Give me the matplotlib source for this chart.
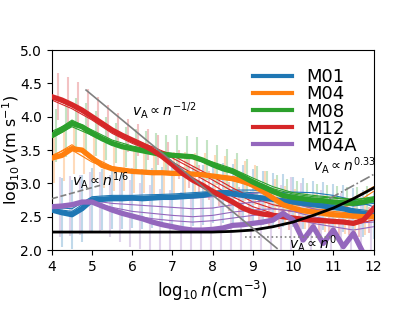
import numpy as np
import matplotlib
matplotlib.use("Agg")
import matplotlib.pyplot as plt

# log10 n grid for the thick (mean) curves and error bars
x_fine = [4.0, 4.25, 4.5, 4.75, 5.0, 5.25, 5.5, 5.75, 6.0, 6.25, 6.5, 6.75,
          7.0, 7.25, 7.5, 7.75, 8.0, 8.25, 8.5, 8.75, 9.0, 9.25, 9.5, 9.75,
          10.0, 10.25, 10.5, 10.75, 11.0, 11.25, 11.5, 11.75, 12.0]
# coarser grid for the thin (snapshot) curves and the black curve
x_coarse = [4.0, 4.5, 5.0, 5.5, 6.0, 6.5, 7.0, 7.5, 8.0, 8.5, 9.0, 9.5,
            10.0, 10.5, 11.0, 11.5, 12.0]

labels = ["M01", "M04", "M08", "M12", "M04A"]
colors = ["#1f77b4", "#ff7f0e", "#2ca02c", "#d62728", "#9467bd"]

m01 = [2.60, 2.56, 2.53, 2.62, 2.75, 2.76, 2.77, 2.77, 2.78, 2.77, 2.78, 2.79,
       2.79, 2.80, 2.81, 2.82, 2.85, 2.86, 2.84, 2.82, 2.80, 2.78, 2.76, 2.74,
       2.72, 2.70, 2.68, 2.66, 2.64, 2.62, 2.58, 2.55, 2.52]
m04 = [3.38, 3.42, 3.52, 3.50, 3.38, 3.27, 3.22, 3.20, 3.18, 3.17, 3.16, 3.16,
       3.15, 3.15, 3.14, 3.13, 3.11, 3.09, 3.07, 3.04, 2.97, 2.88, 2.78, 2.68,
       2.63, 2.59, 2.57, 2.55, 2.53, 2.52, 2.51, 2.50, 2.50]
m08 = [3.72, 3.80, 3.90, 3.85, 3.75, 3.67, 3.60, 3.55, 3.52, 3.49, 3.46, 3.43,
       3.42, 3.41, 3.40, 3.35, 3.28, 3.22, 3.18, 3.10, 3.02, 2.95, 2.88, 2.82,
       2.79, 2.77, 2.75, 2.74, 2.72, 2.71, 2.70, 2.72, 2.76]
m12 = [4.30, 4.25, 4.18, 4.10, 4.00, 3.90, 3.80, 3.72, 3.65, 3.58, 3.50, 3.40,
       3.28, 3.15, 3.05, 2.97, 2.88, 2.80, 2.72, 2.63, 2.57, 2.54, 2.52, 2.50,
       2.48, 2.46, 2.45, 2.44, 2.43, 2.42, 2.40, 2.45, 2.62]
m04a = [2.65, 2.66, 2.68, 2.72, 2.72, 2.66, 2.60, 2.55, 2.51, 2.47, 2.42, 2.38,
        2.35, 2.32, 2.30, 2.30, 2.31, 2.33, 2.37, 2.38, 2.40, 2.42, 2.45, 2.55,
        2.45, 2.15, 2.35, 2.10, 2.30, 2.05, 2.25, 1.95, 1.90]

m01_err = [0.50, 0.52, 0.52, 0.50, 0.48, 0.46, 0.45, 0.45, 0.45, 0.45, 0.45, 0.45,
           0.45, 0.45, 0.45, 0.45, 0.45, 0.45, 0.45, 0.45, 0.42, 0.40, 0.40, 0.40,
           0.38, 0.38, 0.36, 0.36, 0.35, 0.35, 0.35, 0.35, 0.35]
m04_err = [0.38, 0.38, 0.38, 0.36, 0.35, 0.34, 0.33, 0.32, 0.32, 0.32, 0.32, 0.32,
           0.32, 0.32, 0.32, 0.32, 0.32, 0.32, 0.30, 0.30, 0.30, 0.30, 0.28, 0.28,
           0.28, 0.28, 0.28, 0.28, 0.28, 0.28, 0.28, 0.28, 0.28]
m08_err = [0.40, 0.40, 0.38, 0.36, 0.34, 0.32, 0.30, 0.30, 0.30, 0.30, 0.30, 0.30,
           0.30, 0.30, 0.30, 0.30, 0.30, 0.30, 0.28, 0.26, 0.24, 0.24, 0.24, 0.24,
           0.24, 0.24, 0.24, 0.24, 0.24, 0.24, 0.24, 0.24, 0.24]
m12_err = [0.35, 0.35, 0.34, 0.32, 0.30, 0.28, 0.26, 0.25, 0.24, 0.23, 0.22, 0.22,
           0.22, 0.22, 0.22, 0.22, 0.22, 0.22, 0.22, 0.22, 0.20, 0.20, 0.20, 0.20,
           0.20, 0.20, 0.20, 0.20, 0.20, 0.20, 0.20, 0.20, 0.20]
m04a_err = [0.45, 0.45, 0.45, 0.45, 0.45, 0.46, 0.48, 0.50, 0.50, 0.50, 0.50, 0.52,
            0.52, 0.52, 0.52, 0.52, 0.52, 0.52, 0.52, 0.52, 0.52, 0.52, 0.52, 0.55,
            0.55, 0.55, 0.55, 0.60, 0.55, 0.55, 0.55, 0.55, 0.55]

# thin snapshot curves
m01_thin = [
    [2.62, 2.58, 2.78, 2.80, 2.80, 2.81, 2.82, 2.84, 2.87, 2.88, 2.86, 2.86, 2.87, 2.86, 2.82, 2.75, 2.65],
    [2.58, 2.55, 2.74, 2.76, 2.77, 2.78, 2.80, 2.82, 2.86, 2.86, 2.82, 2.78, 2.75, 2.72, 2.68, 2.62, 2.58],
    [2.64, 2.62, 2.80, 2.82, 2.82, 2.83, 2.84, 2.86, 2.88, 2.90, 2.90, 2.88, 2.82, 2.76, 2.70, 2.66, 2.70],
]
m04_thin = [
    [3.40, 3.58, 3.35, 3.22, 3.19, 3.17, 3.16, 3.15, 3.12, 3.08, 2.98, 2.80, 2.68, 2.65, 2.70, 2.78, 2.95],
    [3.36, 3.50, 3.32, 3.20, 3.16, 3.14, 3.13, 3.12, 3.09, 3.04, 2.95, 2.75, 2.64, 2.60, 2.62, 2.68, 2.88],
    [3.42, 3.55, 3.40, 3.25, 3.20, 3.18, 3.17, 3.16, 3.13, 3.10, 3.00, 2.85, 2.72, 2.62, 2.58, 2.55, 2.60],
]
m08_thin = [
    [3.78, 3.92, 3.78, 3.62, 3.53, 3.47, 3.43, 3.41, 3.30, 3.20, 3.05, 2.92, 2.84, 2.80, 2.78, 2.75, 2.80],
    [3.68, 3.85, 3.72, 3.58, 3.50, 3.44, 3.40, 3.38, 3.26, 3.15, 2.98, 2.85, 2.76, 2.72, 2.70, 2.68, 2.72],
    [3.75, 3.95, 3.80, 3.65, 3.56, 3.50, 3.45, 3.42, 3.32, 3.22, 3.08, 2.95, 2.86, 2.82, 2.79, 2.76, 2.78],
]
m12_thin = [
    [4.28, 4.15, 3.98, 3.78, 3.62, 3.52, 3.38, 3.22, 3.05, 2.88, 2.72, 2.62, 2.58, 2.55, 2.52, 2.48, 2.55],
    [4.25, 4.12, 3.95, 3.75, 3.60, 3.48, 3.32, 3.15, 2.98, 2.80, 2.65, 2.55, 2.50, 2.47, 2.44, 2.38, 2.45],
    [4.32, 4.20, 4.02, 3.82, 3.66, 3.55, 3.42, 3.26, 3.10, 2.93, 2.78, 2.68, 2.62, 2.58, 2.55, 2.50, 2.60],
]
m04a_thin = [
    [2.66, 2.70, 2.76, 2.75, 2.75, 2.76, 2.77, 2.78, 2.80, 2.82, 2.85, 2.88, 2.80, 2.70, 2.65, 2.60, 2.55],
    [2.64, 2.68, 2.74, 2.70, 2.68, 2.66, 2.64, 2.62, 2.63, 2.68, 2.72, 2.75, 2.70, 2.62, 2.55, 2.50, 2.50],
    [2.62, 2.66, 2.72, 2.64, 2.58, 2.55, 2.52, 2.50, 2.52, 2.57, 2.60, 2.62, 2.58, 2.50, 2.45, 2.40, 2.42],
    [2.63, 2.67, 2.73, 2.60, 2.52, 2.47, 2.44, 2.42, 2.44, 2.48, 2.52, 2.55, 2.48, 2.40, 2.35, 2.30, 2.35],
]

# black curve
black_curve = [2.27, 2.27, 2.27, 2.27, 2.27, 2.27, 2.27, 2.27, 2.27, 2.28, 2.30, 2.35,
               2.42, 2.52, 2.63, 2.77, 2.93]

# power-law guide lines: (x start, x end, y at start, slope)
guide_half = (4.85, 9.6, 4.40, -0.5)
guide_sixth = (4.0, 5.2, 2.77, 1.0 / 6.0)
guide_033 = (10.9, 12.0, 2.77, 0.33)
guide_zero = (8.8, 11.0, 2.20, 0.0)

means = [m01, m04, m08, m12, m04a]
errs = [m01_err, m04_err, m08_err, m12_err, m04a_err]
thins = [m01_thin, m04_thin, m08_thin, m12_thin, m04a_thin]


def guide(ax, g, **kw):
    x0, x1, y0, s = g
    xs = np.array([x0, x1])
    ax.plot(xs, y0 + s * (xs - x0), **kw)


def main():
    fig = plt.figure(figsize=(4.15, 3.11), dpi=100)
    ax = fig.add_subplot(1, 1, 1)
    fig.subplots_adjust(left=0.125, right=0.9, bottom=0.196, top=0.839)

    xf = np.array(x_fine)
    for i, (y, e, c) in enumerate(zip(means, errs, colors)):
        y = np.array(y)
        e = np.array(e)
        ax.vlines(xf + 0.05 * i, y - e, y + e, color=c, alpha=0.28, linewidth=1.5, zorder=1)

    for th, c in zip(thins, colors):
        for t in th:
            ax.plot(x_coarse, t, color=c, linewidth=0.8, zorder=2)

    for y, c, lab in zip(means, colors, labels):
        ax.plot(x_fine, y, color=c, linewidth=3.8, label=lab, zorder=3)

    ax.plot(x_coarse, black_curve, color="black", linewidth=2, zorder=4)

    guide(ax, guide_half, color="gray", linewidth=1.2, zorder=5)
    guide(ax, guide_sixth, color="gray", linewidth=1.2, linestyle="--", zorder=5)
    guide(ax, guide_033, color="gray", linewidth=1.2, linestyle="-.", zorder=5)
    guide(ax, guide_zero, color="gray", linewidth=1.2, linestyle=":", zorder=5)

    ax.text(6.0, 4.1, r"$v_{\rm A}\propto n^{-1/2}$", fontsize=10, va="center")
    ax.text(4.5, 3.05, r"$v_{\rm A}\propto n^{1/6}$", fontsize=10, va="center")
    ax.text(10.5, 3.27, r"$v_{\rm A}\propto n^{0.33}$", fontsize=10, va="center")
    ax.text(9.9, 2.1, r"$v_{\rm A}\propto n^{0}$", fontsize=10, va="center")

    ax.set_xlim(4, 12)
    ax.set_ylim(2.0, 5.0)
    ax.set_xticks(range(4, 13))
    ax.set_yticks([2.0, 2.5, 3.0, 3.5, 4.0, 4.5, 5.0])
    ax.tick_params(labelsize=10)

    ax.set_xlabel(r"$\log_{10}n({\rm cm}^{-3})$", fontsize=12)
    ax.set_ylabel(r"$\log_{10}v({\rm m\ s}^{-1})$", fontsize=11.5, labelpad=-1)

    leg = ax.legend(loc="upper right", frameon=False, fontsize=13,
                    labelspacing=-0.05, handlelength=2.15,
                    bbox_to_anchor=(1.0, 0.99))
    for line in leg.get_lines():
        line.set_linewidth(3)

    fig.savefig("out.png", dpi=100)


if __name__ == "__main__":
    main()
